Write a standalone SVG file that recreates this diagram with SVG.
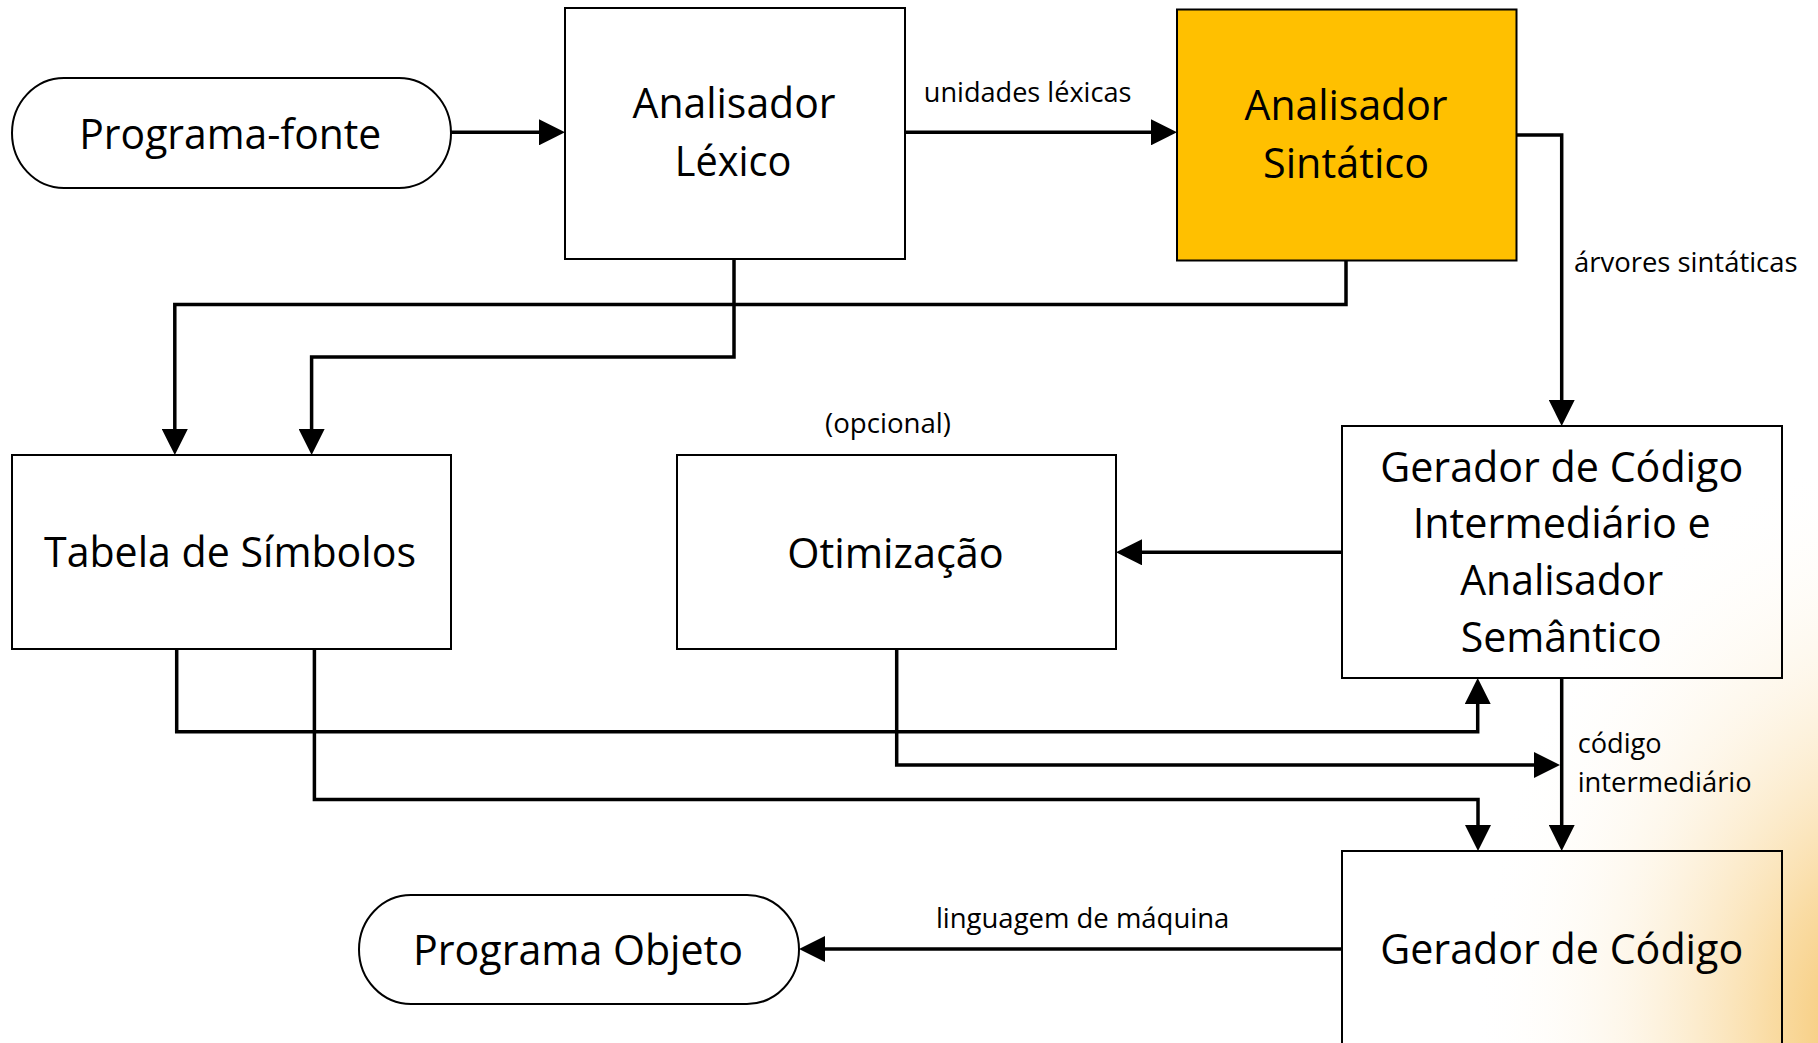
<svg xmlns="http://www.w3.org/2000/svg" width="1818" height="1043" viewBox="0 0 1818 1043">
  <style>
    .box { fill: none; stroke: #000; stroke-width: 2; }
    .node-text { font-family: "Open Sans", "Noto Sans", "Liberation Sans", sans-serif; font-size: 42px; fill: #000; text-anchor: middle; }
    .label { font-family: "Open Sans", "Noto Sans", "Liberation Sans", sans-serif; font-size: 28px; fill: #000; }
    .conn { fill: none; stroke: #000; stroke-width: 3.5; stroke-linejoin: miter; }
  </style>
  <defs>
    <marker id="arrow" markerUnits="userSpaceOnUse" markerWidth="26" markerHeight="26" refX="6" refY="13" orient="auto">
      <path d="M0,0 L26,13 L0,26 z" fill="#000"/>
    </marker>
    <radialGradient id="glow" gradientUnits="userSpaceOnUse" cx="1900" cy="1030" r="430" gradientTransform="translate(1900 1030) scale(1 1.35) translate(-1900 -1030)">
      <stop offset="0" stop-color="#F2B340" stop-opacity="0.9"/>
      <stop offset="0.3" stop-color="#F6C466" stop-opacity="0.6"/>
      <stop offset="0.65" stop-color="#FAE0B0" stop-opacity="0.25"/>
      <stop offset="1" stop-color="#FFFFFF" stop-opacity="0"/>
    </radialGradient>
  </defs>

  <!-- page background with warm corner glow -->
  <rect x="0" y="0" width="1818" height="1043" fill="#FFFFFF"/>
  <rect x="1300" y="400" width="518" height="643" fill="url(#glow)"/>

  <!-- connectors -->
  <g id="connectors">
    <path class="conn" d="M451,132.3 H545" marker-end="url(#arrow)"/>
    <path class="conn" d="M905,132.3 H1157" marker-end="url(#arrow)"/>
    <path class="conn" d="M1516.5,135 H1561.7 V406" marker-end="url(#arrow)"/>
    <path class="conn" d="M1346,260.7 V304.5 H174.8 V435" marker-end="url(#arrow)"/>
    <path class="conn" d="M734,259.3 V357 H311.6 V435" marker-end="url(#arrow)"/>
    <path class="conn" d="M1342,552.3 H1136" marker-end="url(#arrow)"/>
    <path class="conn" d="M176.7,649.3 V731.7 H1477.7 V698" marker-end="url(#arrow)"/>
    <path class="conn" d="M314.4,649.3 V799.4 H1478 V831" marker-end="url(#arrow)"/>
    <path class="conn" d="M896.7,649.3 V765 H1540" marker-end="url(#arrow)"/>
    <path class="conn" d="M1561.7,678 V831" marker-end="url(#arrow)"/>
    <path class="conn" d="M1342,949 H819" marker-end="url(#arrow)"/>

    <text class="label" x="1027.6" y="101.7" text-anchor="middle" textLength="207.6" lengthAdjust="spacingAndGlyphs">unidades léxicas</text>
    <text class="label" x="1574" y="271.7" textLength="223.6" lengthAdjust="spacingAndGlyphs">árvores sintáticas</text>
    <text class="label" x="1577.7" y="753" textLength="84" lengthAdjust="spacingAndGlyphs">código</text>
    <text class="label" x="1577.7" y="791.5" textLength="174" lengthAdjust="spacingAndGlyphs">intermediário</text>
    <text class="label" x="1082.6" y="928.3" text-anchor="middle" textLength="293.4" lengthAdjust="spacingAndGlyphs">linguagem de máquina</text>
  </g>

  <!-- source program -->
  <g id="programa-fonte">
    <rect class="box" x="12" y="78" width="439" height="110" rx="52" ry="55" fill="#FFFFFF"/>
    <text class="node-text" x="230.3" y="149" textLength="302" lengthAdjust="spacingAndGlyphs">Programa-fonte</text>
  </g>

  <!-- lexical analyser -->
  <g id="analisador-lexico">
    <rect class="box" x="565" y="8" width="340" height="251"/>
    <text class="node-text" x="734" y="118.3" textLength="203" lengthAdjust="spacingAndGlyphs">Analisador</text>
    <text class="node-text" x="733" y="176" textLength="116.6" lengthAdjust="spacingAndGlyphs">Léxico</text>
  </g>

  <!-- syntax analyser (highlighted) -->
  <g id="analisador-sintatico">
    <rect class="box" x="1177" y="9.5" width="339.5" height="251" style="fill:#FFC000"/>
    <text class="node-text" x="1346" y="120" textLength="203" lengthAdjust="spacingAndGlyphs">Analisador</text>
    <text class="node-text" x="1346" y="178.3" textLength="166" lengthAdjust="spacingAndGlyphs">Sintático</text>
  </g>

  <!-- symbol table -->
  <g id="tabela-simbolos">
    <rect class="box" x="12" y="455" width="439" height="194"/>
    <text class="node-text" x="230" y="566.7" textLength="372" lengthAdjust="spacingAndGlyphs">Tabela de Símbolos</text>
  </g>

  <!-- optimisation (optional stage) -->
  <g id="otimizacao">
    <text class="label" x="888" y="433" text-anchor="middle" textLength="126" lengthAdjust="spacingAndGlyphs">(opcional)</text>
    <rect class="box" x="677" y="455" width="439" height="194"/>
    <text class="node-text" x="895.5" y="567.7" textLength="216.5" lengthAdjust="spacingAndGlyphs">Otimização</text>
  </g>

  <!-- intermediate code generator and semantic analyser -->
  <g id="gerador-intermediario">
    <rect class="box" x="1342" y="426" width="440" height="252"/>
    <text class="node-text" x="1561.7" y="481.6" textLength="363" lengthAdjust="spacingAndGlyphs">Gerador de Código</text>
    <text class="node-text" x="1561.7" y="538.4" textLength="298" lengthAdjust="spacingAndGlyphs">Intermediário e</text>
    <text class="node-text" x="1561.7" y="594.8" textLength="203" lengthAdjust="spacingAndGlyphs">Analisador</text>
    <text class="node-text" x="1561.2" y="652.4" textLength="201" lengthAdjust="spacingAndGlyphs">Semântico</text>
  </g>

  <!-- code generator -->
  <g id="gerador-codigo">
    <rect class="box" x="1342" y="851" width="440" height="220"/>
    <text class="node-text" x="1561.7" y="964.3" textLength="363" lengthAdjust="spacingAndGlyphs">Gerador de Código</text>
  </g>

  <!-- object program -->
  <g id="programa-objeto">
    <rect class="box" x="359" y="895" width="440" height="109" rx="52" ry="54.5" fill="#FFFFFF"/>
    <text class="node-text" x="578" y="965" textLength="330" lengthAdjust="spacingAndGlyphs">Programa Objeto</text>
  </g>
</svg>
